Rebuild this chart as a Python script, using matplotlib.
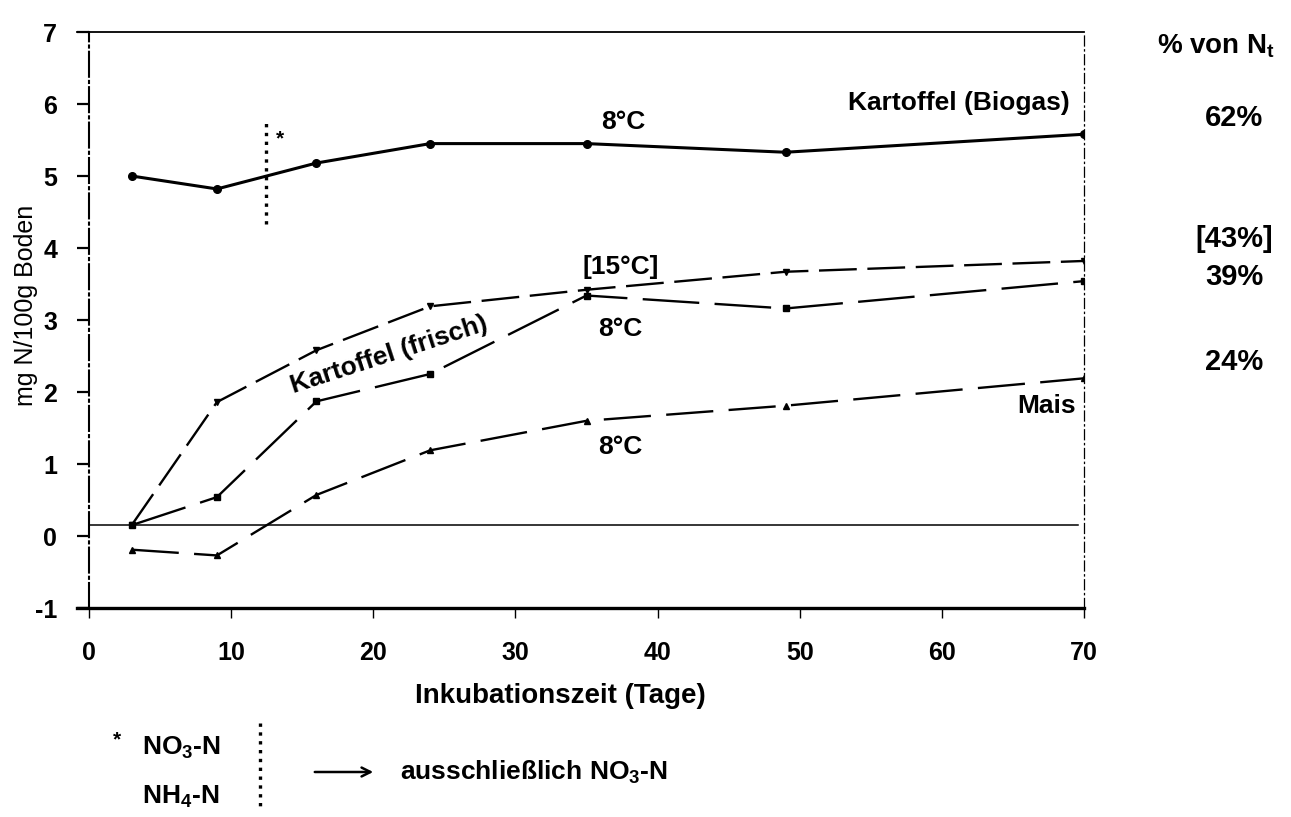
import numpy as np
import matplotlib
matplotlib.use("Agg")
import matplotlib.pyplot as plt
from matplotlib.patches import FancyArrowPatch

plt.rcParams['font.family'] = ['Liberation Sans', 'DejaVu Sans']
plt.rcParams['font.weight'] = 'bold'
plt.rcParams['axes.unicode_minus'] = False

# Inkubationszeit (Tage)
days = [3, 9, 16, 24, 35, 49, 70]

# mg N / 100 g Boden
biogas_8 = [5.0, 4.82, 5.18, 5.45, 5.45, 5.33, 5.58]
frisch_15 = [0.15, 1.86, 2.58, 3.19, 3.42, 3.67, 3.82]
frisch_8 = [0.15, 0.54, 1.87, 2.25, 3.34, 3.16, 3.54]
mais_8 = [-0.19, -0.27, 0.57, 1.19, 1.6, 1.81, 2.19]

percent_labels = ["62%", "[43%]", "39%", "24%"]
percent_y = [5.81, 4.13, 3.6, 2.41]

xticks = [0, 10, 20, 30, 40, 50, 60, 70]
yticks = [-1, 0, 1, 2, 3, 4, 5, 6, 7]

W, H = 1291, 817


def fx(px):
    return px / W


def fy(py):
    return 1 - py / H


fig = plt.figure(figsize=(12.91, 8.17), dpi=100)
ax = fig.add_axes([fx(89), fy(608), fx(1084) - fx(89), fy(32) - fy(608)])

ax.plot(days, biogas_8, color='k', lw=2.2, marker='o', ms=5.5)
ax.plot(days, frisch_15, color='k', lw=1.7, dashes=(16, 4.5), marker='v', ms=4.5)
ax.plot(days, frisch_8, color='k', lw=1.7, dashes=(24, 6.5), marker='s', ms=4.5)
ax.plot(days, mais_8, color='k', lw=1.7, dashes=(20, 6.5), marker='^', ms=4)

# baseline near zero and dotted marker for NO3/NH4
ax.plot([0, 69.6], [0.153, 0.153], color='k', lw=1.1)
ax.plot([12.43, 12.43], [4.34, 5.74], color='k', ls=':', lw=2.4)
ax.text(13.4, 5.52, "*", fontsize=15, ha='center', va='center')

ax.set_xlim(0, 70)
ax.set_ylim(-1, 7)
ax.set_xticks(xticks)
ax.set_yticks(yticks)
ax.tick_params(axis='y', direction='out', length=9, width=1.6, labelsize=18, pad=14)
ax.tick_params(axis='x', direction='out', length=7, width=1.0, labelsize=18, pad=17)

# frame: extended top/bottom lines, broken left and dash-dot right side
ax.spines['top'].set_visible(False)
ax.spines['bottom'].set_visible(False)
ax.plot([-0.85, 70], [7, 7], color='k', lw=1.3, clip_on=False)
ax.plot([-0.85, 70], [-1, -1], color='k', lw=2.4, clip_on=False)
ax.spines['left'].set_linewidth(1.5)
ax.spines['left'].set_linestyle((0, (12, 2, 1, 2)))
ax.spines['right'].set_linewidth(0.9)
ax.spines['right'].set_linestyle((0, (8, 3, 1, 3)))

fig.text(fx(26), fy(305), "mg N/100g Boden", fontsize=18, fontweight='normal',
         rotation=90, ha='center', va='center')

# labels inside the plot
ax.text(37.6, 5.75, "8°C", fontsize=19, ha='center', va='center')
ax.text(69.0, 6.02, "Kartoffel (Biogas)", fontsize=19, ha='right', va='center')
ax.text(37.4, 3.73, "[15°C]", fontsize=19, ha='center', va='center')
ax.text(37.4, 2.88, "8°C", fontsize=19, ha='center', va='center')
ax.text(21.1, 2.52, "Kartoffel (frisch)", fontsize=19, ha='center', va='center', rotation=18)
ax.text(37.4, 1.23, "8°C", fontsize=19, ha='center', va='center')
ax.text(69.4, 1.81, "Mais", fontsize=19, ha='right', va='center')

# percentages on the right
fig.text(fx(1157), fy(46), "% von N$_\\mathregular{t}$", fontsize=20, ha='left', va='center')
for lab, yv in zip(percent_labels, percent_y):
    ax.text(80.55, yv, lab, fontsize=21, ha='center', va='center', clip_on=False)

# x label and note below
fig.text(fx(560), fy(696), "Inkubationszeit (Tage)", fontsize=20, ha='center', va='center')
fig.text(fx(117), fy(740), "*", fontsize=15, ha='center', va='center')
fig.text(fx(142), fy(748), "NO$_\\mathregular{3}$-N", fontsize=19, ha='left', va='center')
fig.text(fx(142), fy(797), "NH$_\\mathregular{4}$-N", fontsize=19, ha='left', va='center')
fig.add_artist(plt.Line2D([fx(260), fx(260)], [fy(723), fy(810)], color='k', ls=':', lw=2.4))
fig.add_artist(FancyArrowPatch((fx(312), fy(772)), (fx(376), fy(772)), transform=fig.transFigure,
                               arrowstyle='->', mutation_scale=16, lw=1.8, color='k'))
fig.text(fx(400), fy(772), "ausschließlich NO$_\\mathregular{3}$-N", fontsize=19, ha='left', va='center')

fig.savefig("out.png", dpi=100)
